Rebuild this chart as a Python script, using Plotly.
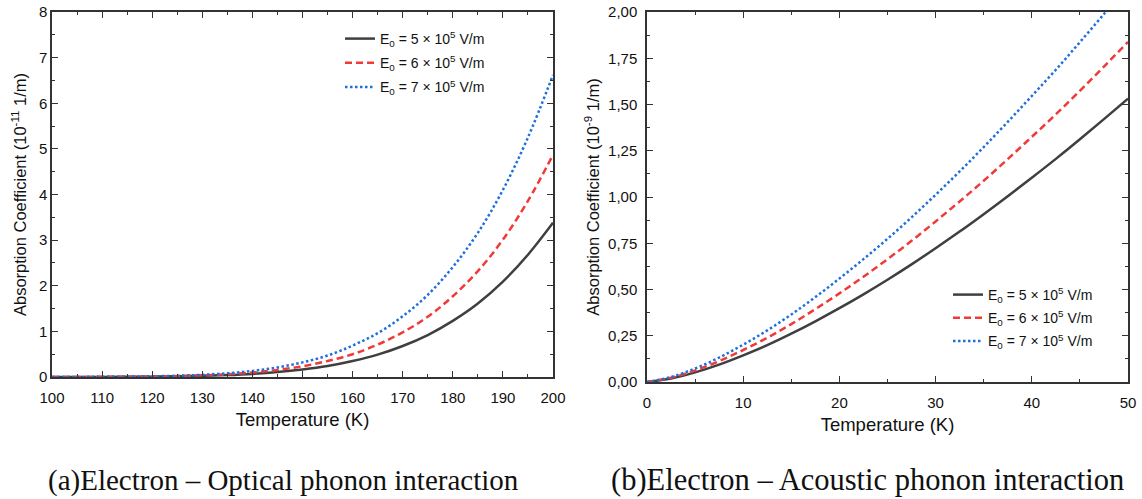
import plotly.graph_objects as go

# ---------- data ----------
T_opt = [100, 105, 110, 115, 120, 125, 130, 135, 140, 145, 150,
         155, 160, 165, 170, 175, 180, 185, 190, 195, 200]
opt_E5 = [0.0004, 0.001, 0.002, 0.004, 0.008, 0.014, 0.025, 0.042, 0.068, 0.107, 0.163,
          0.24, 0.35, 0.49, 0.68, 0.92, 1.23, 1.61, 2.09, 2.68, 3.38]
opt_E6 = [0.0006, 0.0014, 0.003, 0.006, 0.012, 0.020, 0.036, 0.060, 0.098, 0.154, 0.235,
          0.35, 0.50, 0.71, 0.98, 1.32, 1.77, 2.32, 3.01, 3.86, 4.87]
opt_E7 = [0.0008, 0.002, 0.004, 0.008, 0.016, 0.027, 0.049, 0.082, 0.133, 0.21, 0.32,
          0.47, 0.69, 0.96, 1.33, 1.80, 2.41, 3.16, 4.10, 5.25, 6.62]

T_ac = [0, 2.5, 5, 7.5, 10, 12.5, 15, 17.5, 20, 22.5, 25,
        27.5, 30, 32.5, 35, 37.5, 40, 42.5, 45, 47.5, 50]
ac_E5 = [0, 0.019, 0.052, 0.094, 0.144, 0.199, 0.261, 0.328, 0.399, 0.474, 0.553,
         0.636, 0.723, 0.813, 0.907, 1.004, 1.104, 1.206, 1.312, 1.421, 1.532]
ac_E6 = [0, 0.023, 0.062, 0.113, 0.173, 0.239, 0.313, 0.394, 0.479, 0.569, 0.664,
         0.763, 0.868, 0.976, 1.088, 1.205, 1.325, 1.447, 1.574, 1.705, 1.838]
ac_E7 = [0, 0.027, 0.073, 0.132, 0.202, 0.279, 0.365, 0.459, 0.559, 0.664, 0.774,
         0.890, 1.012, 1.138, 1.270, 1.406, 1.546, 1.688, 1.837, 1.989, 2.145]

names = ["E<sub>0</sub> = 5 × 10<sup>5</sup> V/m",
         "E<sub>0</sub> = 6 × 10<sup>5</sup> V/m",
         "E<sub>0</sub> = 7 × 10<sup>5</sup> V/m"]
captions = ["(a)Electron – Optical phonon interaction",
            "(b)Electron – Acoustic phonon interaction"]

colors = ["#3f3f3f", "#f03a3a", "#1f6fdc"]
dashes = ["solid", "7px,4px", "2.5px,2.5px"]

FONT = "Liberation Sans, Arial, sans-serif"
W, H = 1142, 499

fig = go.Figure()

for i, (ys, nm, c, d) in enumerate(zip([opt_E5, opt_E6, opt_E7], names, colors, dashes)):
    fig.add_trace(go.Scatter(x=T_opt, y=ys, mode="lines", name=nm, legendgroup=f"a{i}",
                             line=dict(color=c, width=2.5, dash=d, shape="spline"),
                             xaxis="x", yaxis="y", legend="legend"))
for i, (ys, nm, c, d) in enumerate(zip([ac_E5, ac_E6, ac_E7], names, colors, dashes)):
    fig.add_trace(go.Scatter(x=T_ac, y=ys, mode="lines", name=nm, legendgroup=f"b{i}",
                             line=dict(color=c, width=2.5, dash=d, shape="spline"),
                             xaxis="x2", yaxis="y2", legend="legend2"))

def ax(title, tsize, standoff, **kw):
    base = dict(showline=True, linecolor="#333333", linewidth=1.5, mirror="allticks",
                ticks="inside", ticklen=6, tickwidth=1.3, tickcolor="#333333",
                showgrid=False, zeroline=False, automargin=False,
                tickfont=dict(family=FONT, size=15, color="#111111"),
                title=dict(text=title, standoff=standoff,
                           font=dict(family=FONT, size=tsize, color="#111111")))
    base.update(kw)
    return base

fig.update_layout(
    width=W, height=H,
    margin=dict(l=0, r=0, t=0, b=0),
    paper_bgcolor="white", plot_bgcolor="white",
    separators=",.",
    xaxis=ax("Temperature (K)", 18.5, 8,
             domain=[52 / W, 553 / W], anchor="y", range=[100, 200], dtick=10,
             ticklabelstandoff=6,
             minor=dict(ticks="inside", ticklen=3, dtick=5, tickcolor="#333333")),
    yaxis=ax("Absorption Coefficient (10<sup>-11</sup> 1/m)", 16.5, 8,
             domain=[1 - 377 / H, 1 - 12 / H], anchor="x", range=[0, 8], dtick=1,
             minor=dict(ticks="inside", ticklen=3, dtick=0.5, tickcolor="#333333")),
    xaxis2=ax("Temperature (K)", 18.5, 8,
              domain=[647 / W, 1128 / W], anchor="y2", range=[0, 50], dtick=10,
              ticklabelstandoff=6,
              minor=dict(ticks="inside", ticklen=3, dtick=5, tickcolor="#333333")),
    yaxis2=ax("Absorption Coefficient (10<sup>-9</sup> 1/m)", 16.5, 4,
              domain=[1 - 382 / H, 1 - 12 / H], anchor="x2", range=[0, 2], dtick=0.25,
              tickformat=".2f", ticklabelstandoff=5,
              minor=dict(ticks="inside", ticklen=3, dtick=0.125, tickcolor="#333333")),
    legend=dict(x=340 / W, y=1 - 23 / H, xanchor="left", yanchor="top",
                bgcolor="rgba(0,0,0,0)", font=dict(family=FONT, size=14, color="#111111"),
                tracegroupgap=3, itemwidth=30),
    legend2=dict(x=948 / W, y=1 - 279 / H, xanchor="left", yanchor="top",
                 bgcolor="rgba(0,0,0,0)", font=dict(family=FONT, size=14, color="#111111"),
                 tracegroupgap=2, itemwidth=30),
    showlegend=True,
)

for cx, txt, fs in zip([283 / W, 867 / W], captions, [29, 30.5]):
    fig.add_annotation(x=cx, y=1 - 480 / H, xref="paper", yref="paper",
                       text=txt, showarrow=False, xanchor="center", yanchor="middle",
                       font=dict(family="Liberation Serif, DejaVu Serif, serif", size=fs,
                                 color="#111111"))

fig.write_html("out.html")
